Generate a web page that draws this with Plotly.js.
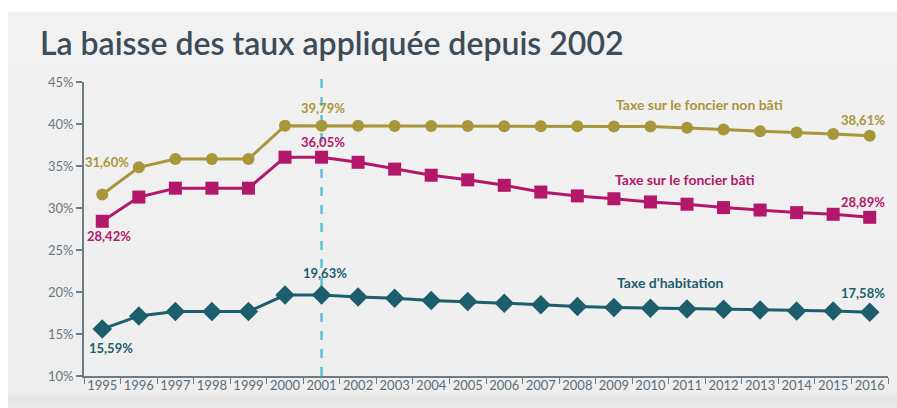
<!DOCTYPE html>
<html>
<head>
<meta charset="utf-8">
<script src="https://cdn.plot.ly/plotly-3.0.1.min.js"></script>
<style>
  html, body { margin: 0; padding: 0; background: #ffffff; }
  #wrap { position: relative; width: 897px; height: 408px; overflow: hidden; background: #ffffff; }
  #bg { position: absolute; left: 8px; top: 12px; width: 889px; height: 396px;
        background: linear-gradient(to bottom, #f2f2f2 0px, #eeeeee 380px, #e6e6e6 386px, #e9e9e9 396px); }
  #chart { position: absolute; left: 0; top: 0; width: 897px; height: 408px; }
</style>
</head>
<body>
<div id="wrap"><div id="bg"></div><div id="chart"></div></div>
<script>
const years = ["1995","1996","1997","1998","1999","2000","2001","2002","2003","2004","2005","2006","2007","2008","2009","2010","2011","2012","2013","2014","2015","2016"];
const foncierNonBati = [31.60, 34.84, 35.83, 35.83, 35.83, 39.79, 39.79, 39.78, 39.77, 39.76, 39.75, 39.74, 39.73, 39.72, 39.71, 39.70, 39.55, 39.35, 39.15, 39.00, 38.82, 38.61];
const foncierBati = [28.42, 31.30, 32.36, 32.36, 32.36, 36.05, 36.05, 35.44, 34.63, 33.90, 33.35, 32.70, 31.90, 31.44, 31.10, 30.72, 30.45, 30.05, 29.76, 29.45, 29.25, 28.89];
const habitation = [15.59, 17.15, 17.67, 17.67, 17.67, 19.63, 19.63, 19.39, 19.27, 18.98, 18.86, 18.67, 18.47, 18.26, 18.15, 18.07, 17.99, 17.95, 17.87, 17.75, 17.75, 17.58];
const yTicks = [10, 15, 20, 25, 30, 35, 40, 45];
const yTickText = ["10%", "15%", "20%", "25%", "30%", "35%", "40%", "45%"];
const seriesNames = ["Taxe sur le foncier non bâti", "Taxe sur le foncier bâti", "Taxe d'habitation"];
const refYear = "2001";

const gold = "#a8963a", magenta = "#b3176a", teal = "#1d5e6c";
const fmt = v => v.toFixed(2).replace(".", ",") + "%";

const traces = [
  { x: years, y: foncierNonBati, type: "scatter", mode: "lines+markers", name: seriesNames[0],
    line: { color: gold, width: 3 }, marker: { symbol: "circle", size: 12, color: gold }, cliponaxis: false },
  { x: years, y: foncierBati, type: "scatter", mode: "lines+markers", name: seriesNames[1],
    line: { color: magenta, width: 3 }, marker: { symbol: "square", size: 13, color: magenta }, cliponaxis: false },
  { x: years, y: habitation, type: "scatter", mode: "lines+markers", name: seriesNames[2],
    line: { color: teal, width: 3 }, marker: { symbol: "diamond", size: 15, color: teal }, cliponaxis: false }
];

const lblFont = (c, s) => ({ family: "Lato, sans-serif", size: s, color: c, weight: 700 });
const last = years.length - 1;
const iRef = years.indexOf(refYear);
function valLabel(series, i, color, xs, ys) {
  return { x: i, y: series[i], xref: "x", yref: "y", text: fmt(series[i]), showarrow: false,
           xanchor: "center", yanchor: "middle",
           xshift: xs, yshift: ys, font: lblFont(color, 13) };
}
const annotations = [
  valLabel(foncierNonBati, 0, gold, 5, 33),
  valLabel(foncierNonBati, iRef, gold, 1, 18),
  valLabel(foncierNonBati, last, gold, -7, 16),
  valLabel(foncierBati, 0, magenta, 7, -15),
  valLabel(foncierBati, iRef, magenta, 1, 15),
  valLabel(foncierBati, last, magenta, -7, 15),
  valLabel(habitation, 0, teal, 9, -19),
  valLabel(habitation, iRef, teal, 3, 22),
  valLabel(habitation, last, teal, -7, 19),
  { xref: "paper", yref: "paper", x: 0.766, y: 0.925, xanchor: "center", yanchor: "middle",
    text: seriesNames[0], showarrow: false, font: lblFont(gold, 14) },
  { xref: "paper", yref: "paper", x: 0.7475, y: 0.669, xanchor: "center", yanchor: "middle",
    text: seriesNames[1], showarrow: false, font: lblFont(magenta, 14) },
  { xref: "paper", yref: "paper", x: 0.729, y: 0.317, xanchor: "center", yanchor: "middle",
    text: seriesNames[2], showarrow: false, font: lblFont(teal, 14) }
];

const layout = {
  width: 897, height: 408,
  margin: { l: 84, r: 9, t: 82, b: 32, pad: 0 },
  paper_bgcolor: "rgba(0,0,0,0)", plot_bgcolor: "rgba(0,0,0,0)",
  showlegend: false,
  title: { text: "La baisse des taux appliquée depuis 2002", xref: "container", yref: "container",
           x: 0.0446, xanchor: "left", y: 0.893, yanchor: "middle",
           font: { family: "Lato, sans-serif", size: 32, color: "#3d4c57", weight: 600 } },
  xaxis: { type: "category", range: [-0.5, years.length - 0.5], showgrid: false, zeroline: false,
           showline: true, linecolor: "#6f7c84", linewidth: 2, tickangle: 0,
           ticks: "outside", tickson: "boundaries", ticklen: 6, tickcolor: "#6f7c84", tickwidth: 1,
           ticklabelstandoff: -4,
           tickfont: { family: "Lato, sans-serif", size: 13, color: "#5f6d76" }, fixedrange: true },
  yaxis: { range: [10, 45], tickvals: yTicks, ticktext: yTickText, showgrid: false, zeroline: false,
           showline: true, linecolor: "#6f7c84", linewidth: 2,
           ticks: "outside", ticklen: 6, tickcolor: "#6f7c84", tickwidth: 2,
           tickfont: { family: "Lato, sans-serif", size: 13, color: "#6a7780" }, fixedrange: true },
  shapes: [
    { type: "line", xref: "x", yref: "paper", x0: iRef, x1: iRef, y0: 0, y1: 1.01,
      line: { color: "#5cc3d6", width: 2.5, dash: "dash" }, layer: "below" }
  ],
  annotations: annotations
};

Plotly.newPlot("chart", traces, layout, { displayModeBar: false, staticPlot: true });
</script>
</body>
</html>
